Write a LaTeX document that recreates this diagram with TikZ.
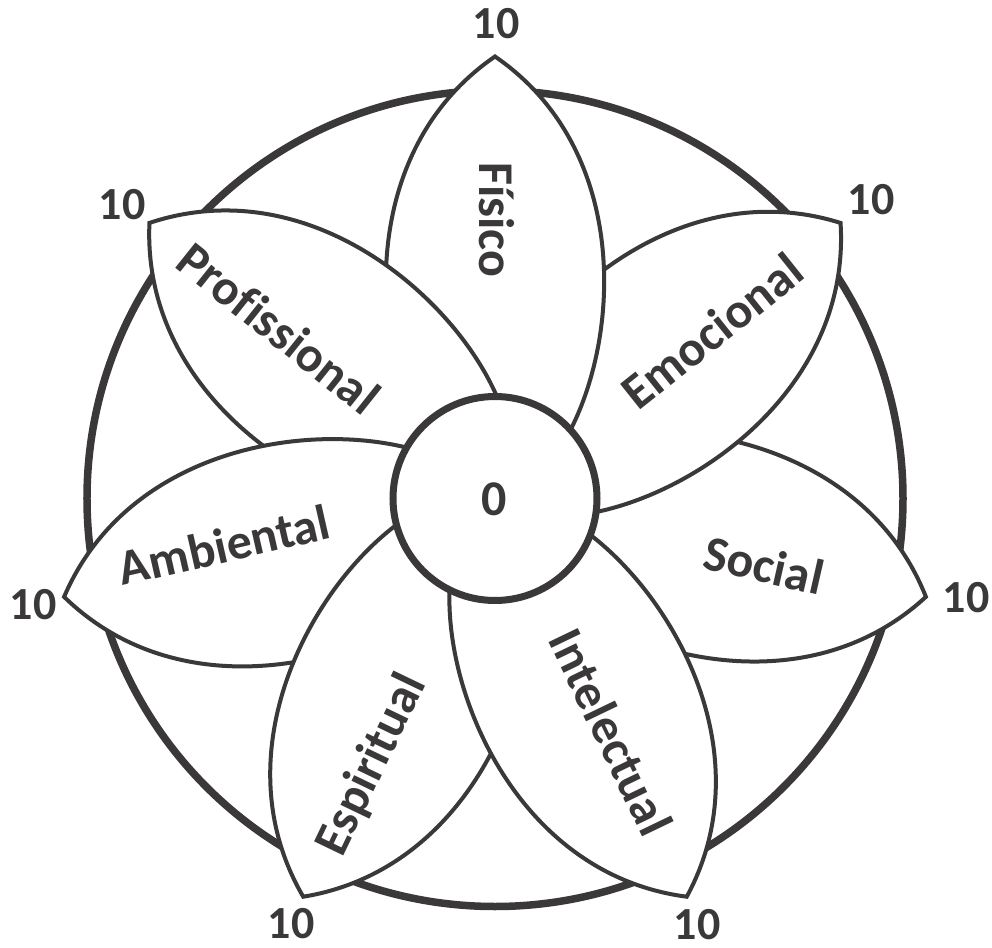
\documentclass[tikz,border=0pt]{standalone}
\usepackage{fontspec}
\setmainfont{Carlito}[Ligatures=NoCommon]
\definecolor{ink}{RGB}{58,56,57}
\begin{document}
\begin{tikzpicture}[x=1pt,y=1pt,
  rim/.style={draw=ink,line width=7.5pt},
  petal/.style={draw=ink,fill=white,line width=4pt,line join=miter},
  hubstyle/.style={circle,draw=ink,fill=white,line width=7pt,minimum size=204pt,inner sep=0pt},
  lbl/.style={text=ink,font=\fontsize{50}{50}\selectfont\bfseries,inner sep=0pt,anchor=center},
  score/.style={text=ink,font=\fontsize{46}{46}\selectfont\bfseries,inner sep=0pt,anchor=center}]
\useasboundingbox (-495,-448.5) rectangle (497,498.5);
% outer scale ring
\draw[rim] (0,0) circle (408);
% petals, drawn so each one overlaps its clockwise neighbour
\foreach \a/\d in {-12.857/0, 38.571/-0.5, 90/0, 141.429/1.5, 192.857/-1.6, 244.286/0.5, 295.714/1.4} {
  \draw[petal, shift={(\a:442)}, rotate=\a+\d]
    (-442,0) .. controls (-432,100) and (-127,185) .. (0,0)
             .. controls (-127,-185) and (-432,-100) .. (-442,0) -- cycle;
}
% hub
\node[hubstyle] (hub) at (0,0) {};
\node[lbl] (zero) at (-1,-0.5) {0};
% petal names
\node[lbl,rotate=-90] (fisico) at (2,278.5) {Físico};
\node[lbl,rotate=38.571] (emocional) at (217,167.5) {Emocional};
\node[lbl,rotate=-12.857] (social) at (269,-66.5) {Social};
\node[lbl,rotate=-64.286] (intelectual) at (116,-233.5) {Intelectual};
\node[lbl,rotate=64.286] (espiritual) at (-123,-266.5) {Espiritual};
\node[lbl,rotate=12.857] (ambiental) at (-271,-46.5) {Ambiental};
\node[lbl,rotate=-38.571] (profissional) at (-216,170.5) {Profissional};
% maximum scores at the petal tips
\node[score] (s1) at (1,474.5) {10};
\node[score] (s2) at (376,298.5) {10};
\node[score] (s3) at (471,-99.5) {10};
\node[score] (s4) at (202,-426) {10};
\node[score] (s5) at (-204,-425) {10};
\node[score] (s6) at (-462,-106.5) {10};
\node[score] (s7) at (-373,293.5) {10};
\end{tikzpicture}
\end{document}
